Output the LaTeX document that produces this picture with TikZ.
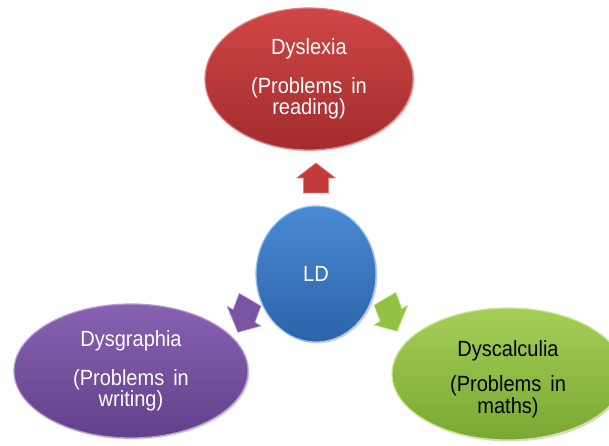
\documentclass[tikz,border=0pt]{standalone}
\usepackage{fontspec}
\setmainfont{Liberation Sans}
\newfontfamily\labfont[FakeStretch=0.91]{Liberation Sans}
\usetikzlibrary{shapes.geometric,shadows}
\definecolor{redT}{HTML}{D04646}\definecolor{redM}{HTML}{C23B3B}\definecolor{redB}{HTML}{A22C2C}\definecolor{redR}{HTML}{E08080}
\definecolor{bluT}{HTML}{4A8AD4}\definecolor{bluM}{HTML}{3A76C0}\definecolor{bluB}{HTML}{2C62A8}\definecolor{bluR}{HTML}{9AC4F0}
\definecolor{purT}{HTML}{8862B2}\definecolor{purM}{HTML}{7854A2}\definecolor{purB}{HTML}{62408A}\definecolor{purR}{HTML}{B49CD2}
\definecolor{grnT}{HTML}{A4CE58}\definecolor{grnM}{HTML}{92C244}\definecolor{grnB}{HTML}{7AA832}\definecolor{grnR}{HTML}{CCE894}
\tikzset{
  bubble/.style={ellipse, inner sep=0pt, align=center, line width=1.2pt,
    font=\labfont\fontsize{22}{21.5}\selectfont,
    drop shadow={opacity=0.3, shadow xshift=1.5pt, shadow yshift=-1.5pt}},
  blockarrow/.pic={\path[pic actions] (-15,-12.5) -- (0,-12.5) -- (0,-19.5) -- (15,0)
     -- (0,19.5) -- (0,12.5) -- (-15,12.5) -- cycle;}
}
\begin{document}
\begin{tikzpicture}[x=1pt,y=1pt]
\useasboundingbox[fill=white] (0,0) rectangle (609,446);
% outer bubbles
\node[bubble, minimum width=208pt, minimum height=142pt, draw=redR,
  top color=redT, middle color=redM, bottom color=redB, text=white]
  (dys) at (309,367) {Dyslexia\\[17.5pt](Problems\hspace{9pt}in\\reading)};
\node[bubble, minimum width=234pt, minimum height=134pt, draw=purR,
  top color=purT, middle color=purM, bottom color=purB, text=white]
  (dysg) at (131,75) {Dysgraphia\\[17.5pt](Problems\hspace{9pt}in\\writing)};
\node[bubble, minimum width=232pt, minimum height=132pt, draw=grnR,
  top color=grnT, middle color=grnM, bottom color=grnB, text=black]
  (dysc) at (508,72) {\rule{0pt}{26pt}Dyscalculia\\[14pt](Problems\hspace{9pt}in\\maths)};
% centre
\node[bubble, minimum width=120pt, minimum height=136pt, draw=bluR,
  top color=bluT, middle color=bluM, bottom color=bluB, text=white]
  (ld) at (316,172) {LD};
% arrows
\pic[fill=redM, draw=redR, line width=0.6pt, rotate=90] at (316,268) {blockarrow};
\begin{scope}[shift={(244,130)}, xscale=0.8, rotate=245]
\pic[transform shape, scale=1.2, fill=purM, draw=purR, line width=0.6pt] at (0,0) {blockarrow};
\end{scope}
\begin{scope}[shift={(391,131)}, xscale=0.8, rotate=295]
\pic[transform shape, scale=1.2, fill=grnM, draw=grnR, line width=0.6pt] at (0,0) {blockarrow};
\end{scope}
\end{tikzpicture}
\end{document}
